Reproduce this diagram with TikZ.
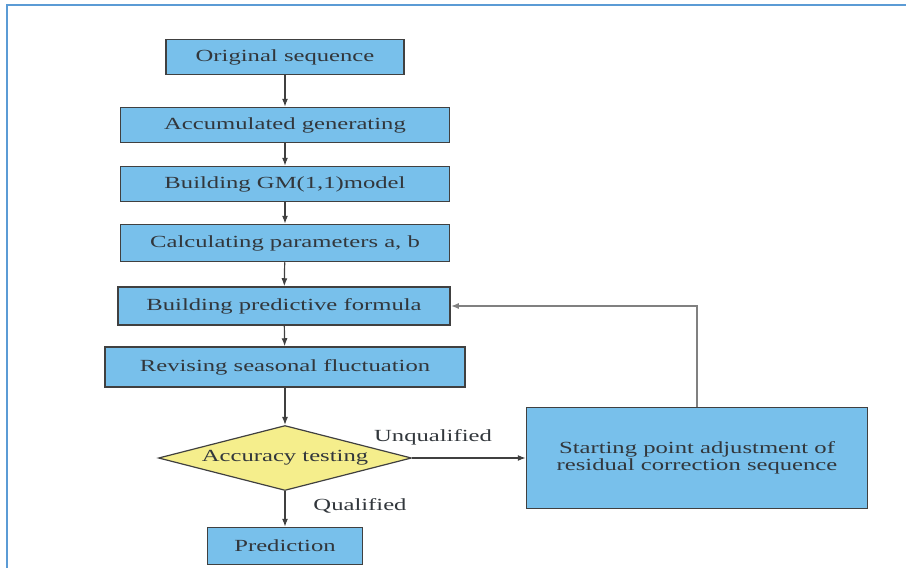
\documentclass[tikz,border=0pt]{standalone}
\usepackage{fontspec}
\setmainfont{Liberation Serif}[FakeStretch=1.45]
\usepackage{tikz}
\usetikzlibrary{shapes.geometric,arrows.meta}

\definecolor{boxblue}{RGB}{120,192,235}
\definecolor{testyellow}{RGB}{245,238,140}
\definecolor{framblue}{RGB}{91,155,213}
\definecolor{txtgray}{RGB}{50,55,60}

\tikzset{
	stepbox/.style={draw=black!75, line width=1.5pt, fill=boxblue, text=txtgray,
		minimum height=35pt, inner sep=0pt, font=\fontsize{17}{20}\selectfont},
	testbox/.style={diamond, aspect=3.9, draw=black!75, line width=1.2pt, fill=testyellow, text=txtgray,
		inner sep=0pt, minimum width=253pt, minimum height=65pt, font=\fontsize{17}{20}\selectfont},
	flow/.style={draw=black!75, line width=1.2pt, -{Latex[length=8pt,width=6pt]}},
	lbl/.style={text=txtgray, font=\fontsize{17}{20}\selectfont}
}

\begin{document}
\begin{tikzpicture}[x=1pt,y=-1pt]
		\useasboundingbox (0,0) rectangle (906,568);
		% frame
		\draw [framblue, line width=2pt] (7,568) -- (7,5) -- (906,5);
		% steps
		\node [stepbox, minimum width=238pt] (orig) at (285,57) {Original sequence};
		\node [stepbox, minimum width=329pt] (accum) at (285,125) {Accumulated generating};
		\node [stepbox, minimum width=329pt] (model) at (285,184) {Building GM(1,1)model};
		\node [stepbox, minimum width=329pt, minimum height=37pt] (param) at (285,243) {Calculating parameters a, b};
		\node [stepbox, minimum width=332pt, minimum height=38pt] (formula) at (284,306) {Building predictive formula};
		\node [stepbox, minimum width=360pt, minimum height=40pt] (season) at (285,367) {Revising seasonal fluctuation};
		\node [testbox] (test) at (285,458) {Accuracy testing};
		\node [stepbox, minimum width=155pt, minimum height=37pt] (pred) at (285,546) {Prediction};
		\node [stepbox, minimum width=341pt, minimum height=101pt, align=center] (adjust) at (697,458)
		{Starting point adjustment of\\[-3pt]residual correction sequence};
		% connectors
		\draw [flow] (orig) -- (accum);
		\draw [flow] (accum) -- (model);
		\draw [flow] (model) -- (param);
		\draw [flow] (param) -- (formula);
		\draw [flow] (formula) -- (season);
		\draw [flow] (season) -- (test);
		\draw [flow] (test) -- (pred);
		\draw [flow] (test.east) -- (adjust.west);
		\draw [flow, draw=black!50, line width=1.8pt] (adjust.north) |- (formula.east);
		\node [lbl] (unq) at (433,437) {Unqualified};
		\node [lbl] (qual) at (360,506) {Qualified};
	\end{tikzpicture}
\end{document}
